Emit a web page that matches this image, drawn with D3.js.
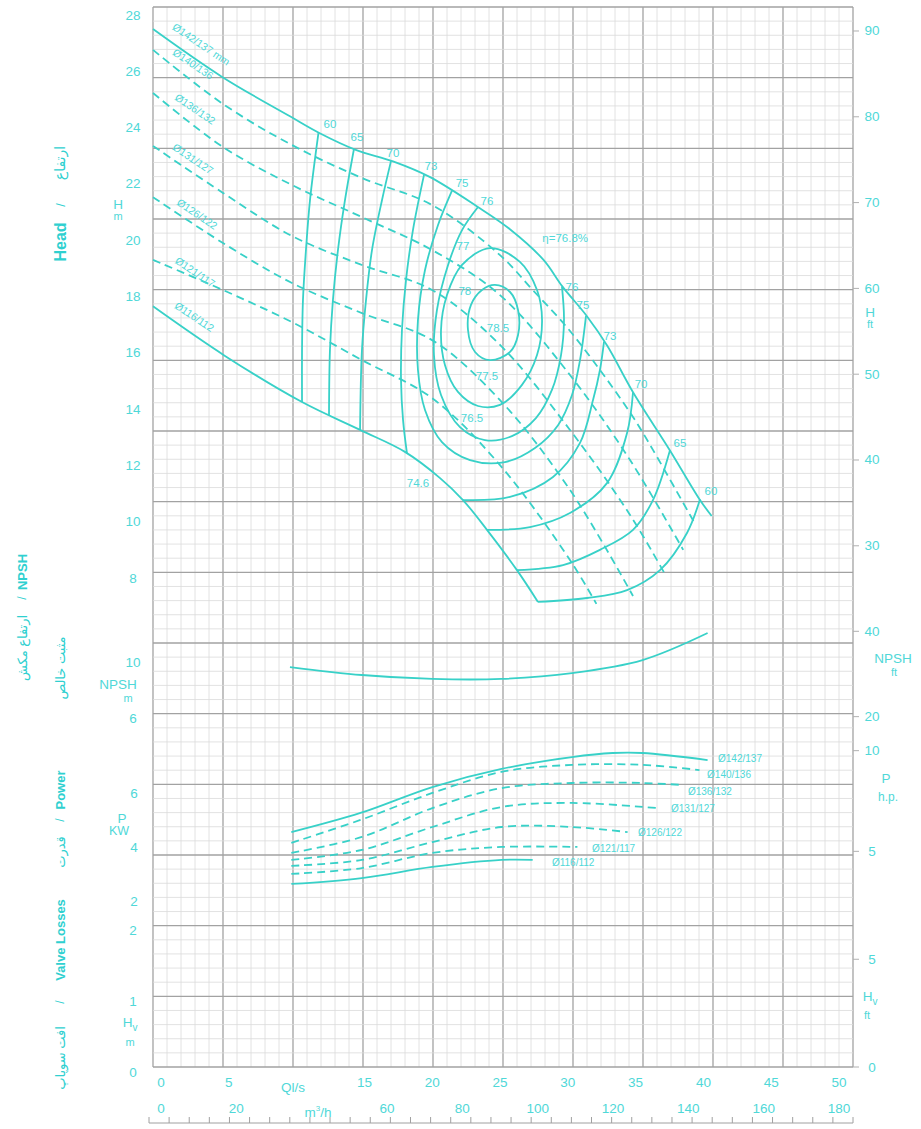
<!DOCTYPE html>
<html><head><meta charset="utf-8">
<script src="https://cdn.jsdelivr.net/npm/d3@7"></script>
<style>
body{margin:0;background:#fff}
svg text{font-family:"Liberation Sans",Arial,"DejaVu Sans",sans-serif}
</style>
</head><body>
<svg id="c" width="921" height="1129"></svg>
<script>
// ---------- tick labels ----------
const flowTicksLs = [0,5,15,20,25,30,35,40,45,50];
const flowTicksM3h = [0,20,60,80,100,120,140,160,180];
const headTicksM = [28,26,24,22,20,18,16,14,12,10,8];
const headTicksFt = [90,80,70,60,50,40,30];
const npshTicksM = [10,6];
const npshTicksFt = [40,20];
const powerTicksKW = [6,4,2];
const powerTicksHP = [10,5];
const hvTicksM = [2,1,0];
const hvTicksFt = [5,0];

// ---------- head curves  [Q l/s, H m] ----------
const head142 = [[0,27.5],[5.1,25.8],[10.1,24.4],[12.3,23.8],[15,23.2],[17.7,22.8],[20.4,22.25],[23.9,21.2],[26.3,20.4],[28.8,19.3],[30.2,18.35],[32,17.3],[33.5,16.25],[35.4,14.6],[38.1,12.55],[40.3,10.8],[41.2,10.2]];
const head140 = [[0,26.76],[5.16,24.84],[10.25,23.38],[15.41,22.21],[20.58,21.25],[25.59,19.47],[28.0,18.23],[30.5,16.92],[32.96,15.39],[35.4,13.72],[36.87,12.55],[40.0,9.9]];
const head136 = [[0,25.23],[5.16,23.31],[10.25,21.96],[15.41,20.82],[20.58,19.65],[25.59,18.05],[30.75,15.21],[35.18,12.19],[39.1,9.0]];
const head131 = [[0,23.35],[5.16,21.68],[10.25,20.15],[15.41,19.12],[20.58,18.23],[25.59,16.28],[30.75,13.26],[35.18,10.24],[37.8,8.1]];
const head126 = [[0,21.53],[5.16,19.9],[10.25,18.48],[15.41,17.41],[20.58,16.45],[25.59,14.32],[30.75,11.13],[35.4,7.36]];
const head121 = [[0,19.3],[5.16,18.23],[10.25,17.09],[15.41,15.74],[20.58,14.39],[25.59,12.01],[30.75,8.64],[32.7,7.08]];
const head116 = [[0,17.65],[5.31,15.89],[10.99,14.25],[15.27,13.26],[18.58,12.48],[21.17,11.55],[22.86,10.77],[24.63,9.71],[26.84,8.28],[28.39,7.15]];
const headNames = ["Ø142/137 mm","Ø140/136","Ø136/132","Ø131/127","Ø126/122","Ø121/117","Ø116/112"];
const headNamePos = [[3.4,26.85],[2.8,26.15],[2.95,24.55],[2.8,22.78],[3.1,20.82],[2.95,18.76],[2.9,17.17]];

// ---------- iso-efficiency curves [Q, H] ----------
const eff60L = [[12.2,23.8],[11.58,21.43],[11.28,19.65],[11.06,17.88],[10.99,16.1],[10.99,14.25]];
const eff65L = [[14.82,23.24],[14.16,21.43],[13.64,19.65],[13.27,17.88],[13.05,16.1],[12.98,13.79]];
const eff70L = [[17.55,22.81],[16.89,21.43],[16.15,19.65],[15.71,17.88],[15.41,16.1],[15.27,13.26]];
const eff73L = [[19.99,22.33],[19.17,20.36],[18.66,18.59],[18.36,16.81],[18.29,15.03],[18.44,13.61],[18.73,12.43]];
const eff75U = [[22.05,21.76],[21.02,20.54],[20.06,18.94],[19.54,17.17],[19.54,15.39],[20.06,13.97],[21.31,12.83],[23.38,12.19],[25.96,12.12],[28.17,12.62],[29.87,13.43],[30.9,14.5],[31.49,15.74],[31.93,17.3]];
const eff76U = [[23.97,21.18],[22.79,20.36],[21.76,19.12],[20.94,17.52],[20.72,15.92],[21.24,14.5],[22.64,13.36],[24.48,12.9],[26.47,13.04],[28.24,13.68],[29.42,14.68],[30.09,15.92],[30.31,17.17],[30.16,18.35]];
const eff77 = [[24.85,19.72],[27.06,19.23],[28.32,18.23],[28.69,17.17],[28.32,15.92],[27.21,14.86],[25.59,14.15],[23.97,14.11],[22.49,14.61],[21.53,15.57],[21.24,16.81],[21.68,18.05],[22.79,19.12]];
const eff78 = [[25.22,18.41],[26.33,18.16],[26.92,17.52],[26.92,16.63],[26.33,16.03],[24.85,15.74],[23.75,16.03],[23.23,16.81],[23.45,17.7],[24.26,18.23]];
const eff73R = [[33.26,16.4],[32.96,15.39],[32.45,14.32],[31.49,12.8],[29.5,11.59],[26.33,10.88],[22.86,10.77]];
const eff70R = [[35.4,14.6],[34.96,13.15],[33.48,11.37],[30.75,10.31],[27.8,9.81],[24.63,9.71]];
const eff65R = [[38.13,12.55],[36.87,10.77],[35.4,9.71],[32.96,9.0],[30.24,8.46],[26.84,8.28]];
const eff60R = [[40.34,10.8],[39.38,9.6],[37.39,8.28],[34.96,7.57],[32.01,7.29],[28.39,7.15]];
const effLabels = ["60","65","70","73","75","76","76","75","73","70","65","60","η=76.8%","77","78","78.5","77.5","76.5","74.6"];
const effLabelPos = [[13.05,24.13],[15.04,23.67],[17.7,23.1],[20.5,22.64],[22.79,22.03],[24.63,21.39],[30.9,18.34],[31.71,17.7],[33.7,16.6],[35.99,14.89],[38.86,12.8],[41.15,11.09],[30.4,20.08],[22.86,19.79],[23.0,18.2],[25.44,16.88],[24.63,15.18],[23.53,13.68],[19.54,11.38]];

// ---------- NPSH [Q, m] ----------
const npsh = [[10.1,9.64],[15.4,9.07],[20.6,8.79],[25.7,8.79],[30.9,9.21],[36.1,10.14],[40.9,12.07]];

// ---------- power [Q, kW] ----------
const pow142 = [[10.2,4.44],[15.3,5.15],[20.6,6.11],[25.7,6.78],[30.9,7.22],[33.9,7.37],[36.1,7.37],[40.9,7.11]];
const pow140 = [[10.2,4.04],[15.3,4.89],[20.6,5.89],[25.7,6.67],[30.9,6.93],[36.1,6.93],[40.3,6.74]];
const pow136 = [[10.2,3.67],[15.4,4.26],[20.6,5.33],[25.7,6.07],[30.9,6.26],[36.1,6.26],[38.9,6.19]];
const pow131 = [[10.2,3.41],[15.4,3.78],[20.6,4.63],[25.7,5.37],[30.9,5.52],[37.2,5.33]];
const pow126 = [[10.2,3.19],[15.4,3.41],[20.6,4.07],[25.7,4.63],[30.9,4.63],[35.0,4.44]];
const pow121 = [[10.2,2.89],[15.4,3.11],[20.6,3.67],[25.7,3.89],[31.3,3.89]];
const pow116 = [[10.2,2.52],[15.4,2.74],[20.6,3.15],[25.7,3.41],[28.0,3.41]];
const powNames = ["Ø142/137","Ø140/136","Ø136/132","Ø131/127","Ø126/122","Ø121/117","Ø116/112"];
const powNamePos = [[41.67,7.15],[40.86,6.59],[39.45,5.96],[38.2,5.3],[35.77,4.41],[32.37,3.85],[29.42,3.33]];

// ---------- scales ----------
const x = d3.scaleLinear().domain([0,50]).range([153,831]);
const yH = d3.scaleLinear().domain([8,28]).range([578,15]);
const yN = d3.scaleLinear().domain([6,10]).range([718,662]);
const yP = d3.scaleLinear().domain([2,6]).range([898,790]);
const yHv = d3.scaleLinear().domain([0,1]).range([1067,996.3]);
const gx = d3.scaleLinear().domain([0,50]).range([153,853]);
const gy = d3.scaleLinear().domain([0,75]).range([7,1067]);
const FT = 0.3048, HP = 0.7457;

const CURVE = "#38d1c8", TXT = "#4fd8d8", TXT2 = "#2fd0d0";
const svg = d3.select("#c");

// ---------- grid ----------
const grid = svg.append("g");
const vx = d3.range(0,51).sort((a,b)=>(a%5===0)-(b%5===0));
const hy = d3.range(0,76).sort((a,b)=>(a%5===0)-(b%5===0));
grid.selectAll(".v").data(vx).join("line")
  .attr("x1",d=>gx(d)).attr("x2",d=>gx(d)).attr("y1",gy(0)).attr("y2",gy(75))
  .attr("stroke",d=>d%5===0?"#a2a2a2":"#dadada").attr("stroke-width",d=>d%5===0?1.3:0.8);
grid.selectAll(".h").data(hy).join("line")
  .attr("y1",d=>gy(d)).attr("y2",d=>gy(d)).attr("x1",gx(0)).attr("x2",gx(50))
  .attr("stroke",d=>d%5===0?"#a2a2a2":"#dadada").attr("stroke-width",d=>d%5===0?1.3:0.8);

// ---------- curves ----------
const g = svg.append("g").attr("fill","none").attr("stroke",CURVE).attr("stroke-width",1.8);
const lineH = d3.line().x(d=>x(d[0])).y(d=>yH(d[1])).curve(d3.curveCatmullRom.alpha(0.5));
const loopH = d3.line().x(d=>x(d[0])).y(d=>yH(d[1])).curve(d3.curveCatmullRomClosed.alpha(0.5));
const heads = [head142,head140,head136,head131,head126,head121,head116];
heads.forEach((c,i)=>{
  g.append("path").attr("d",lineH(c)).attr("stroke-dasharray",(i===0||i===6)?null:"8,5");
});
[eff60L,eff65L,eff70L,eff73L,eff75U,eff76U,eff73R,eff70R,eff65R,eff60R].forEach(c=>{
  g.append("path").attr("d",lineH(c));
});
[eff77,eff78].forEach(c=>g.append("path").attr("d",loopH(c)));

const lineN = d3.line().x(d=>x(d[0])).y(d=>yN(d[1])).curve(d3.curveCatmullRom.alpha(0.5));
g.append("path").attr("d",lineN(npsh));

const lineP = d3.line().x(d=>x(d[0])).y(d=>yP(d[1])).curve(d3.curveCatmullRom.alpha(0.5));
[pow142,pow140,pow136,pow131,pow126,pow121,pow116].forEach((c,i)=>{
  g.append("path").attr("d",lineP(c)).attr("stroke-dasharray",(i===0||i===6)?null:"8,5");
});

// ---------- curve labels ----------
const lab = svg.append("g").attr("fill",TXT);
headNames.forEach((t,i)=>{
  const px = x(headNamePos[i][0]), py = yH(headNamePos[i][1]);
  lab.append("text").attr("transform",`translate(${px},${py}) rotate(34)`)
    .attr("text-anchor","middle").attr("font-size",10.5).text(t);
});
effLabels.forEach((t,i)=>{
  lab.append("text").attr("x",x(effLabelPos[i][0])).attr("y",yH(effLabelPos[i][1]))
    .attr("text-anchor","middle").attr("dominant-baseline","central").attr("font-size",11.5).text(t);
});
powNames.forEach((t,i)=>{
  lab.append("text").attr("x",x(powNamePos[i][0])).attr("y",yP(powNamePos[i][1]))
    .attr("dominant-baseline","central").attr("font-size",10).text(t);
});

// ---------- axes text ----------
const ax = svg.append("g").attr("fill",TXT).attr("font-size",13.5).attr("text-anchor","middle").attr("dominant-baseline","central");
headTicksM.forEach(v=>ax.append("text").attr("x",133).attr("y",yH(v)).text(v));
npshTicksM.forEach(v=>ax.append("text").attr("x",133).attr("y",yN(v)).text(v));
powerTicksKW.forEach(v=>ax.append("text").attr("x",134).attr("y",yP(v)+3).text(v));
hvTicksM.forEach(v=>ax.append("text").attr("x",133).attr("y",yHv(v)+5).text(v));
const rt = svg.append("g").attr("stroke","#b0b0b0").attr("stroke-width",1);
const rightT = [];
headTicksFt.forEach(v=>rightT.push([v,yH(v*FT)]));
npshTicksFt.forEach(v=>rightT.push([v,yN(v*FT)]));
powerTicksHP.forEach(v=>rightT.push([v,yP(v*HP)]));
hvTicksFt.forEach(v=>rightT.push([v,yHv(v*FT)]));
rightT.forEach(([v,py])=>{
  ax.append("text").attr("x",872).attr("y",py).text(v);
  rt.append("line").attr("x1",853).attr("x2",859).attr("y1",py).attr("y2",py);
});
flowTicksLs.forEach(v=>ax.append("text").attr("x",x(v)+8).attr("y",1082).text(v));
flowTicksM3h.forEach(v=>ax.append("text").attr("x",x(v/3.6)+8).attr("y",1108).text(v));
ax.append("text").attr("x",293).attr("y",1087).text("Ql/s");
const m3 = ax.append("text").attr("x",318).attr("y",1112);
m3.append("tspan").text("m");
m3.append("tspan").attr("font-size",8).attr("dy",-4).text("3");
m3.append("tspan").attr("dy",4).text("/h");

// unit labels
const unit = (t,px,py,fs)=>ax.append("text").attr("x",px).attr("y",py).attr("font-size",fs||13.5).text(t);
unit("H",118,204); unit("m",118,216,11);
unit("NPSH",118,684); unit("m",128,698,11);
unit("P",122,818); unit("KW",119,831,12.5);
const hv = ax.append("text").attr("x",130).attr("y",1022); hv.append("tspan").text("H"); hv.append("tspan").attr("font-size",10).attr("dy",5).text("v");
unit("m",130,1042,11);
unit("H",870,312); unit("ft",870,324,11);
unit("NPSH",893,658); unit("ft",894,672,11);
unit("P",886,778); unit("h.p.",888,797,12);
const hv2 = ax.append("text").attr("x",870).attr("y",996); hv2.append("tspan").text("H"); hv2.append("tspan").attr("font-size",10).attr("dy",5).text("v");
unit("ft",867,1015,11);

// vertical titles
const vt = svg.append("g").attr("fill",TXT2).attr("text-anchor","middle").attr("dominant-baseline","central");
const vtext = (t,px,py,fs,bold)=>vt.append("text").attr("transform",`translate(${px},${py}) rotate(-90)`)
  .attr("font-size",fs).attr("font-weight",bold?"bold":"normal").text(t);
vtext("Head",60,242,16,true); vtext("/",60,205,13,false); vtext("ارتفاع",60,163,14,false);
vtext("NPSH",22,572,13,true); vtext("/",22,598,12,false); vtext("ارتفاع مکش",22,648,13,false);
vtext("مثبت خالص",60,668,13,false);
vtext("Power",60,790,13,true); vtext("/",60,820,12,false); vtext("قدرت",60,852,13,false);
vtext("Valve Losses",60,940,13,true); vtext("/",60,1002,12,false); vtext("افت سوپاپ",60,1058,13,false);

// bottom ruler
const rx = d3.scaleLinear().domain([0,35]).range([149,853]);
const rg = svg.append("g").attr("stroke","#a0a0a0").attr("stroke-width",1);
rg.append("line").attr("x1",rx(0)).attr("x2",rx(35)).attr("y1",1123).attr("y2",1123);
d3.range(0,36).forEach(i=>rg.append("line").attr("x1",rx(i)).attr("x2",rx(i)).attr("y1",1123).attr("y2",1117));
</script>
</body></html>
